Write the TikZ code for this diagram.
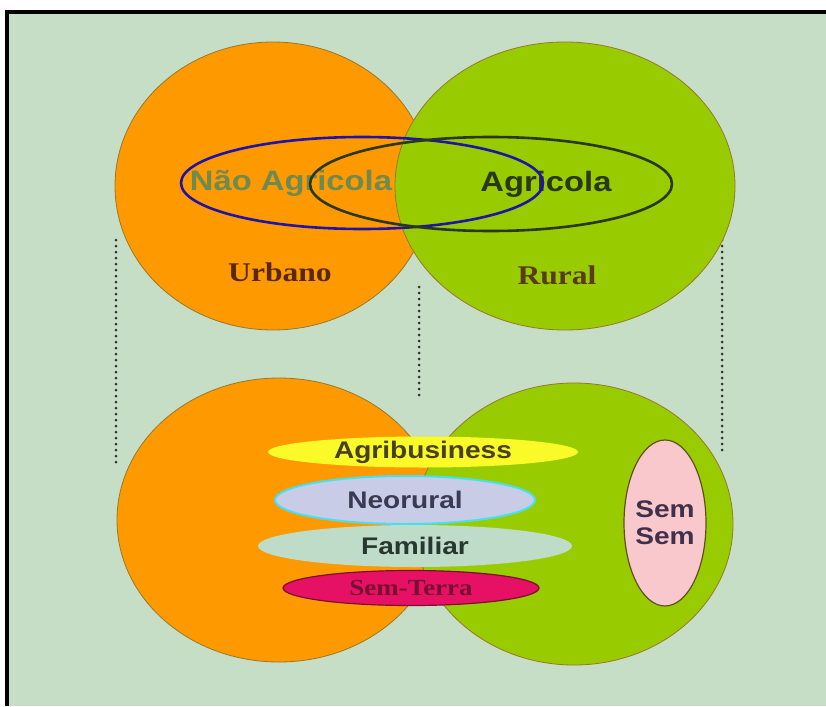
\documentclass[tikz,border=0pt]{standalone}
\usepackage{fontspec}
\setmainfont{Liberation Serif}
\setsansfont{Liberation Sans}
\usetikzlibrary{shapes.geometric}

\definecolor{bgcol}{RGB}{198,222,198}
\definecolor{urbcol}{RGB}{255,153,0}
\definecolor{rurcol}{RGB}{153,204,0}
\definecolor{rimcol}{RGB}{150,120,40}
\definecolor{naocol}{RGB}{108,138,82}
\definecolor{agrcol}{RGB}{40,56,24}
\definecolor{naorim}{RGB}{32,20,168}
\definecolor{urbtxt}{RGB}{88,40,14}
\definecolor{rurtxt}{RGB}{90,58,24}
\definecolor{busfill}{RGB}{250,250,40}
\definecolor{bustxt}{RGB}{72,64,30}
\definecolor{neofill}{RGB}{200,204,230}
\definecolor{neorim}{RGB}{70,225,240}
\definecolor{neotxt}{RGB}{58,58,80}
\definecolor{famfill}{RGB}{190,220,200}
\definecolor{famtxt}{RGB}{40,56,48}
\definecolor{terfill}{RGB}{230,16,100}
\definecolor{terrim}{RGB}{120,16,48}
\definecolor{tertxt}{RGB}{120,16,50}
\definecolor{semfill}{RGB}{248,200,204}
\definecolor{semrim}{RGB}{96,80,32}
\definecolor{semtxt}{RGB}{64,48,74}

\tikzset{
  zone/.style={ellipse, draw=rimcol, line width=0.8pt, inner sep=0pt},
  band/.style={ellipse, inner sep=0pt},
  bigsans/.style={font=\sffamily\bfseries\fontsize{28}{30}\selectfont, xscale=1.17},
  smallsans/.style={font=\sffamily\bfseries\fontsize{24}{27}\selectfont, xscale=1.17, align=center},
  bigserif/.style={font=\rmfamily\bfseries\fontsize{27}{30}\selectfont, xscale=1.17},
  guide/.style={line width=3pt, line cap=round, dash pattern=on 0pt off 6pt, black!80}
}

\begin{document}
\begin{tikzpicture}[x=1pt, y=-1pt]

	% Background and frame
	\useasboundingbox (0,0) rectangle (826,706);
	\fill[white] (0,0) rectangle (826,706);
	\fill[bgcol] (7,12) rectangle (826,706);
	\draw[line width=4pt] (7,706) -- (7,12) -- (826,12);

	% Dotted guides
	\coordinate (g1a) at (116,240);
	\coordinate (g1b) at (116,462);
	\coordinate (g2a) at (419,287);
	\coordinate (g2b) at (419,400);
	\coordinate (g3a) at (722,240);
	\coordinate (g3b) at (722,455);
	\draw[guide] (g1a) -- (g1b);
	\draw[guide] (g2a) -- (g2b);
	\draw[guide] (g3a) -- (g3b);

	% Upper circles
	\node[zone, fill=urbcol, minimum width=316pt, minimum height=288pt] (urb) at (273,186) {};
	\node[zone, fill=rurcol, minimum width=340pt, minimum height=288pt] (rur) at (565,186) {};

	\node[bigsans, text=naocol] (nao) at (291,183) {Não Agricola};
	\node[bigsans, text=agrcol] (agr) at (546,184) {Agricola};

	\draw[line width=2.6pt, naorim] (362,183) ellipse (181pt and 46pt);
	\draw[line width=2.6pt, agrcol] (491,184) ellipse (181pt and 47pt);

	\node[bigserif, text=urbtxt] (urbano) at (280,272) {Urbano};
	\node[bigserif, text=rurtxt] (rural) at (557,275) {Rural};

	% Lower circles
	\node[zone, fill=urbcol, minimum width=324pt, minimum height=284pt] (urb2) at (279,520) {};
	\node[zone, fill=rurcol, minimum width=318pt, minimum height=282pt] (rur2) at (574,524) {};

	% Bands
	\node[band, fill=busfill, minimum width=310pt, minimum height=31pt] (bus) at (423,452) {};
	\node[smallsans, text=bustxt] at (bus) {Agribusiness};
	\node[band, fill=neofill, draw=neorim, line width=2pt, minimum width=260pt, minimum height=48pt] (neo) at (405,500) {};
	\node[smallsans, text=neotxt] at (neo) {Neorural};
	\node[band, fill=famfill, minimum width=314pt, minimum height=42pt] (fam) at (415,546) {};
	\node[smallsans, text=famtxt] at (fam) {Familiar};
	\node[band, fill=terfill, draw=terrim, line width=1.2pt, minimum width=256pt, minimum height=35pt] (ter) at (411,588) {};
	\node[font=\rmfamily\bfseries\fontsize{23}{26}\selectfont, xscale=1.17, text=tertxt] at (ter) {Sem-Terra};

	% Sem Sem
	\node[band, fill=semfill, draw=semrim, line width=1.2pt, minimum width=82pt, minimum height=166pt] (sem) at (665,523) {};
	\node[smallsans, text=semtxt] at (sem) {Sem\\Sem};

\end{tikzpicture}
\end{document}
